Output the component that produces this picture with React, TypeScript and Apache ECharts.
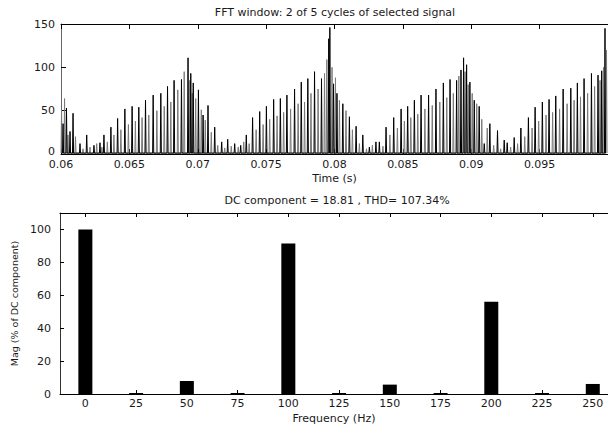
import React, { useEffect, useRef } from "react";
import * as echarts from "echarts";

// Spikes of the time signal: [time (s), amplitude]
const blackSpikes: [number, number][] = [
  [0.06015, 35], [0.0604, 53], [0.06066, 26], [0.06088, 47], [0.06139, 12], [0.06188, 22],
  [0.06241, 10], [0.06285, 13], [0.06314, 22], [0.06365, 31], [0.06414, 41], [0.06467, 52],
  [0.0652, 55], [0.06569, 54], [0.06618, 62], [0.06674, 68], [0.0673, 70], [0.06779, 78],
  [0.06827, 85], [0.06881, 86], [0.06929, 111], [0.06949, 93], [0.06967, 82], [0.07005, 74],
  [0.07039, 45], [0.07075, 56], [0.07124, 31], [0.07175, 14], [0.07219, 17], [0.0727, 12],
  [0.07314, 10], [0.07355, 22], [0.07401, 42], [0.07453, 49], [0.07502, 55], [0.07555, 63],
  [0.07604, 64], [0.07652, 68], [0.07708, 75], [0.07757, 83], [0.07805, 87], [0.07854, 95],
  [0.07905, 87], [0.07958, 133], [0.07966, 146], [0.07993, 81], [0.08018, 70], [0.08061, 58],
  [0.08109, 43], [0.08158, 32], [0.08207, 22], [0.08255, 8], [0.08303, 14], [0.08328, 14],
  [0.08377, 31], [0.08433, 42], [0.08487, 52], [0.08535, 55], [0.08584, 62], [0.08633, 68],
  [0.08688, 68], [0.08742, 75], [0.08796, 82], [0.08845, 86], [0.08893, 85], [0.08925, 97],
  [0.08944, 111], [0.08966, 103], [0.0899, 83], [0.09022, 62], [0.09058, 55], [0.09095, 12],
  [0.09136, 35], [0.09192, 27], [0.09241, 16], [0.09263, 13], [0.09314, 19], [0.09363, 30],
  [0.09418, 42], [0.09467, 54], [0.0952, 60], [0.09569, 63], [0.09618, 67], [0.09672, 75],
  [0.09728, 76], [0.09776, 82], [0.09825, 87], [0.09879, 93], [0.09927, 91], [0.09954, 96],
  [0.09978, 145],
];

const graySpikes: [number, number][] = [
  [0.06004, 51], [0.06026, 64], [0.06051, 22], [0.06106, 20], [0.06161, 6], [0.06212, 8],
  [0.06261, 12], [0.06299, 8], [0.06339, 14], [0.06387, 22], [0.06438, 28], [0.06493, 34],
  [0.06544, 38], [0.06593, 42], [0.06642, 45], [0.06701, 50], [0.06755, 55], [0.06803, 60],
  [0.06854, 74], [0.06901, 95], [0.06942, 85], [0.0696, 70], [0.06985, 64], [0.07026, 51],
  [0.07055, 39], [0.07099, 25], [0.07146, 10], [0.07197, 7], [0.07245, 9], [0.07296, 8],
  [0.07336, 14], [0.07376, 12], [0.07427, 28], [0.07478, 34], [0.07526, 40], [0.0758, 44],
  [0.07628, 48], [0.07679, 52], [0.07734, 58], [0.07781, 60], [0.07828, 70], [0.0788, 75],
  [0.07927, 93], [0.07944, 109], [0.07982, 100], [0.08007, 88], [0.08036, 62], [0.08084, 50],
  [0.08131, 28], [0.08182, 12], [0.08234, 6], [0.08277, 10], [0.08354, 9], [0.08405, 22],
  [0.0846, 30], [0.08511, 38], [0.08558, 42], [0.08609, 46], [0.08661, 52], [0.08715, 56],
  [0.0877, 60], [0.08821, 65], [0.08869, 70], [0.08909, 90], [0.08955, 95], [0.08978, 80],
  [0.09007, 70], [0.0904, 58], [0.09077, 40], [0.09117, 30], [0.09164, 10], [0.09215, 6],
  [0.09288, 8], [0.09339, 12], [0.09391, 20], [0.09445, 30], [0.09493, 38], [0.09547, 45],
  [0.09595, 48], [0.09646, 52], [0.09701, 58], [0.09752, 62], [0.09799, 66], [0.09851, 70],
  [0.09902, 78], [0.09942, 85], [0.09967, 100], [0.09989, 120],
];

// Harmonic spectrum
const freqs = [0, 25, 50, 75, 100, 125, 150, 175, 200, 225, 250];
const mags = [100, 0.6, 7.9, 0.6, 91.5, 0.6, 5.7, 0.6, 56, 0.6, 6.1];

const titleTop = "FFT window: 2 of 5 cycles of selected signal";
const titleBottom = "DC component = 18.81 , THD= 107.34%";

const FONT = "DejaVu Sans";
const TXT = "#1a1a1a";

function spikeLine(sp: [number, number][]) {
  const half = 0.00004;
  const out: [number, number][] = [];
  for (const [t, v] of sp) {
    out.push([t - half, 1], [t, v], [t + half, 1]);
  }
  return out;
}

export default function App() {
  const ref = useRef<HTMLDivElement>(null);
  useEffect(() => {
    document.body.style.margin = "0";
    const chart = echarts.init(ref.current!, undefined, { renderer: "svg" });
    const label = { fontSize: 11, color: TXT, fontFamily: FONT };
    const line = (c: string) => ({ onZero: false, lineStyle: { color: c, width: 1 } });
    chart.setOption({
      animation: false,
      textStyle: { fontFamily: FONT },
      title: [
        {
          text: titleTop, left: 335, top: 7, textAlign: "center", padding: 0,
          textStyle: { fontSize: 11, fontWeight: "normal", color: TXT, fontFamily: FONT },
        },
        {
          text: titleBottom, left: 337, top: 195, textAlign: "center", padding: 0,
          textStyle: { fontSize: 11, fontWeight: "normal", color: TXT, fontFamily: FONT },
        },
      ],
      grid: [
        { left: 61, top: 24, right: -3, height: 130 },
        { left: 60, top: 213, right: -6, height: 181 },
      ],
      xAxis: [
        {
          gridIndex: 0, type: "value", min: 0.06, max: 0.1, interval: 0.005, position: "bottom",
          axisLine: line("#000"),
          axisTick: { inside: true, length: 5, lineStyle: { color: "#000" } },
          axisLabel: { ...label, margin: 5, showMaxLabel: false },
          splitLine: { show: false },
          name: "Time (s)", nameLocation: "middle", nameGap: 19, nameTextStyle: label,
        },
        {
          gridIndex: 0, type: "value", min: 0.06, max: 0.1, interval: 0.005, position: "top",
          axisLine: line("#000"),
          axisTick: { inside: true, length: 5, lineStyle: { color: "#000" } },
          axisLabel: { show: false }, splitLine: { show: false },
        },
        {
          gridIndex: 1, type: "value", min: -12.5, max: 257.5, position: "bottom",
          axisLine: line("#000"),
          axisTick: { inside: true, length: 4, customValues: freqs, lineStyle: { color: "#000" } },
          axisLabel: { ...label, margin: 4, customValues: freqs },
          splitLine: { show: false },
          name: "Frequency (Hz)", nameLocation: "middle", nameGap: 19, nameTextStyle: label,
        },
        {
          gridIndex: 1, type: "value", min: -12.5, max: 257.5, position: "top",
          axisLine: line("#000"),
          axisTick: { inside: true, length: 4, customValues: freqs, lineStyle: { color: "#000" } },
          axisLabel: { show: false, customValues: freqs }, splitLine: { show: false },
        },
      ],
      yAxis: [
        {
          gridIndex: 0, type: "value", min: 0, max: 150, interval: 50, position: "left",
          axisLine: { show: true, ...line("#666") },
          axisTick: { show: true, inside: true, length: 5, lineStyle: { color: "#000" } },
          axisLabel: {
            ...label, margin: 6,
            formatter: (v: number) => (v === 0 ? "{z|0}" : String(v)),
            rich: { z: { fontSize: 11, color: TXT, fontFamily: FONT, padding: [0, 0, 6, 0] } },
          },
          splitLine: { show: false },
        },
        {
          gridIndex: 1, type: "value", min: 0, max: 110, interval: 20, position: "left",
          axisLine: { show: true, ...line("#333") },
          axisTick: { show: true, inside: true, length: 4, lineStyle: { color: "#000" } },
          axisLabel: { ...label, margin: 9, showMaxLabel: false },
          splitLine: { show: false },
          name: "Mag (% of DC component)", nameLocation: "middle", nameGap: 34, nameRotate: 90,
          nameTextStyle: { fontSize: 9.5, color: TXT, fontFamily: FONT },
        },
      ],
      series: [
        {
          type: "line", xAxisIndex: 0, yAxisIndex: 0, data: spikeLine(graySpikes),
          symbol: "none", lineStyle: { color: "#7a7a7a", width: 1 }, z: 2,
        },
        {
          type: "line", xAxisIndex: 0, yAxisIndex: 0, data: spikeLine(blackSpikes),
          symbol: "none", lineStyle: { color: "#000", width: 1 }, z: 3,
        },
        {
          type: "bar", xAxisIndex: 2, yAxisIndex: 1,
          data: freqs.map((f, i) => [f, mags[i]]),
          barWidth: 14, itemStyle: { color: "#000" },
        },
      ],
    });
    return () => chart.dispose();
  }, []);
  return <div ref={ref} style={{ width: 608, height: 427 }} />;
}
